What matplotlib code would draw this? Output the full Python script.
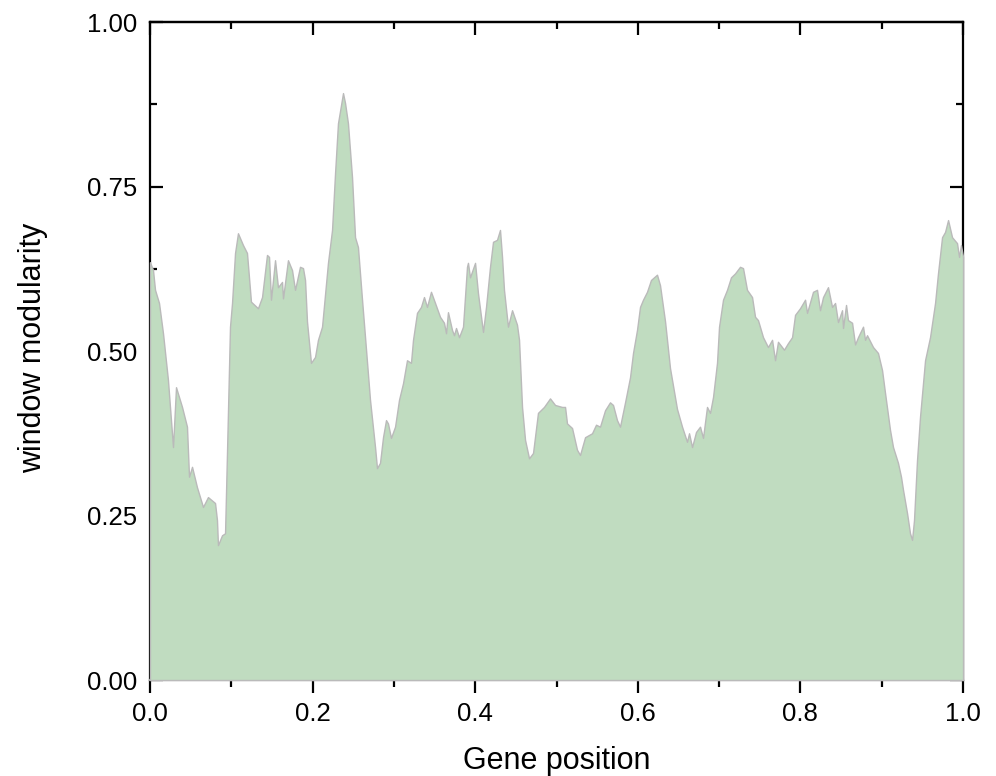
import numpy as np
import matplotlib
matplotlib.use("Agg")
from matplotlib import pyplot as plt
from matplotlib.ticker import MultipleLocator, FormatStrFormatter

#-----------------------------------------------------------------------------------#
## sliding window modularity along the gene

gene_pos = [
    0.0000, 0.0037, 0.0062, 0.0111, 0.0160, 0.0221, 0.0283, 0.0320, 0.0394, 0.0455,
    0.0480, 0.0517, 0.0578, 0.0652, 0.0713, 0.0800, 0.0824, 0.0836, 0.0886, 0.0923,
    0.0947, 0.0984, 0.1009, 0.1046, 0.1082, 0.1144, 0.1193, 0.1242, 0.1328, 0.1378,
    0.1439, 0.1464, 0.1488, 0.1538, 0.1574, 0.1624, 0.1636, 0.1697, 0.1747, 0.1784,
    0.1845, 0.1882, 0.1907, 0.1931, 0.1980, 0.2030, 0.2066, 0.2116, 0.2189, 0.2239,
    0.2276, 0.2312, 0.2374, 0.2399, 0.2435, 0.2485, 0.2522, 0.2558, 0.2608, 0.2645,
    0.2706, 0.2768, 0.2792, 0.2829, 0.2866, 0.2903, 0.2927, 0.2964, 0.3014, 0.3063,
    0.3112, 0.3161, 0.3210, 0.3235, 0.3284, 0.3333, 0.3370, 0.3407, 0.3456, 0.3506,
    0.3567, 0.3616, 0.3641, 0.3665, 0.3715, 0.3739, 0.3764, 0.3801, 0.3850, 0.3899,
    0.3911, 0.3936, 0.3998, 0.4034, 0.4096, 0.4133, 0.4182, 0.4219, 0.4268, 0.4305,
    0.4330, 0.4354, 0.4403, 0.4453, 0.4514, 0.4539, 0.4576, 0.4613, 0.4662, 0.4711,
    0.4772, 0.4846, 0.4920, 0.4982, 0.5068, 0.5105, 0.5129, 0.5191, 0.5252, 0.5289,
    0.5351, 0.5437, 0.5486, 0.5535, 0.5597, 0.5658, 0.5695, 0.5744, 0.5781, 0.5843,
    0.5904, 0.5941, 0.5990, 0.6027, 0.6064, 0.6113, 0.6162, 0.6236, 0.6273, 0.6335,
    0.6396, 0.6482, 0.6544, 0.6605, 0.6630, 0.6667, 0.6716, 0.6765, 0.6802, 0.6851,
    0.6888, 0.6925, 0.6974, 0.6999, 0.7048, 0.7097, 0.7146, 0.7196, 0.7257, 0.7294,
    0.7343, 0.7405, 0.7442, 0.7478, 0.7540, 0.7601, 0.7651, 0.7688, 0.7724, 0.7798,
    0.7847, 0.7897, 0.7934, 0.7995, 0.8057, 0.8081, 0.8155, 0.8204, 0.8241, 0.8278,
    0.8339, 0.8389, 0.8426, 0.8462, 0.8512, 0.8524, 0.8561, 0.8585, 0.8635, 0.8672,
    0.8708, 0.8770, 0.8795, 0.8819, 0.8893, 0.8954, 0.9004, 0.9041, 0.9102, 0.9139,
    0.9200, 0.9237, 0.9262, 0.9311, 0.9348, 0.9373, 0.9397, 0.9434, 0.9471, 0.9533,
    0.9594, 0.9656, 0.9692, 0.9742, 0.9779, 0.9816, 0.9865, 0.9926, 0.9951, 0.9975,
    1.0000,
]

modularity = [
    0.635, 0.623, 0.593, 0.573, 0.527, 0.456, 0.354, 0.445, 0.415, 0.385,
    0.309, 0.324, 0.293, 0.263, 0.278, 0.269, 0.243, 0.205, 0.220, 0.223,
    0.345, 0.537, 0.573, 0.649, 0.679, 0.661, 0.649, 0.575, 0.565, 0.582,
    0.646, 0.643, 0.578, 0.638, 0.597, 0.605, 0.580, 0.638, 0.623, 0.593,
    0.628, 0.626, 0.608, 0.545, 0.482, 0.491, 0.517, 0.537, 0.634, 0.684,
    0.770, 0.846, 0.892, 0.877, 0.846, 0.764, 0.673, 0.658, 0.578, 0.521,
    0.426, 0.354, 0.322, 0.330, 0.369, 0.395, 0.390, 0.368, 0.385, 0.426,
    0.451, 0.486, 0.482, 0.517, 0.558, 0.567, 0.582, 0.567, 0.590, 0.573,
    0.552, 0.543, 0.527, 0.559, 0.532, 0.524, 0.535, 0.521, 0.537, 0.628,
    0.634, 0.612, 0.634, 0.588, 0.529, 0.567, 0.628, 0.666, 0.669, 0.684,
    0.643, 0.593, 0.537, 0.562, 0.540, 0.517, 0.415, 0.365, 0.337, 0.345,
    0.406, 0.415, 0.428, 0.418, 0.415, 0.415, 0.390, 0.383, 0.350, 0.342,
    0.369, 0.375, 0.388, 0.385, 0.410, 0.422, 0.418, 0.395, 0.385, 0.422,
    0.460, 0.497, 0.532, 0.567, 0.578, 0.590, 0.608, 0.616, 0.600, 0.545,
    0.474, 0.412, 0.385, 0.362, 0.375, 0.354, 0.377, 0.385, 0.368, 0.415,
    0.406, 0.430, 0.482, 0.537, 0.578, 0.593, 0.612, 0.618, 0.628, 0.626,
    0.593, 0.582, 0.552, 0.547, 0.521, 0.506, 0.517, 0.486, 0.514, 0.502,
    0.512, 0.521, 0.555, 0.565, 0.578, 0.558, 0.590, 0.593, 0.562, 0.582,
    0.597, 0.567, 0.573, 0.544, 0.562, 0.535, 0.570, 0.547, 0.543, 0.510,
    0.521, 0.537, 0.517, 0.524, 0.506, 0.497, 0.471, 0.436, 0.380, 0.354,
    0.330, 0.309, 0.289, 0.254, 0.223, 0.213, 0.243, 0.334, 0.400, 0.486,
    0.521, 0.573, 0.618, 0.673, 0.681, 0.699, 0.673, 0.664, 0.643, 0.661,
    0.643,
]

x_ticks = [0.0, 0.2, 0.4, 0.6, 0.8, 1.0]
y_ticks = [0.00, 0.25, 0.50, 0.75, 1.00]

#-----------------------------------------------------------------------------------#
## plot

plt.rcParams['font.family'] = ['Liberation Sans', 'DejaVu Sans']

fig = plt.figure(figsize=(9.96, 7.76), dpi=100)
ax = fig.add_axes([0.1506, 0.1237, 0.8163, 0.8479])

ax.fill_between(gene_pos, modularity, 0, facecolor='#c0dcc0', edgecolor='#bababa',
                linewidth=1.0, zorder=3, clip_on=False)

ax.set_xlim(0, 1)
ax.set_ylim(0, 1)
ax.set_xticks(x_ticks)
ax.set_yticks(y_ticks)
ax.xaxis.set_minor_locator(MultipleLocator(0.1))
ax.yaxis.set_minor_locator(MultipleLocator(0.125))
ax.xaxis.set_major_formatter(FormatStrFormatter('%.1f'))
ax.yaxis.set_major_formatter(FormatStrFormatter('%.2f'))

for sp in ax.spines.values():
    sp.set_linewidth(1.6)
ax.spines['bottom'].set_color('#a0a0a0')

ax.tick_params(axis='x', which='both', direction='out', top=False, labelsize=18.5,
               width=1.6, pad=6.5)
ax.tick_params(axis='x', which='major', length=9.5)
ax.tick_params(axis='x', which='minor', length=5)
ax.tick_params(axis='y', which='both', direction='in', left=True, right=True,
               labelsize=18.5, width=1.6, pad=9)
ax.tick_params(axis='y', which='major', length=9.5)
ax.tick_params(axis='y', which='minor', length=5)

# top axis: inward ticks, no labels
top = ax.secondary_xaxis('top')
top.set_xticks(x_ticks)
top.xaxis.set_minor_locator(MultipleLocator(0.1))
top.spines['top'].set_linewidth(1.6)
top.tick_params(which='both', direction='in', labeltop=False, width=1.6)
top.tick_params(which='major', length=9.5)
top.tick_params(which='minor', length=5)

ax.set_xlabel('Gene position', fontsize=22)
ax.set_ylabel('window modularity', fontsize=22)
ax.xaxis.set_label_coords(0.5, -0.1)
ax.yaxis.set_label_coords(-0.125, 0.505)

fig.savefig('out.png', dpi=100)
